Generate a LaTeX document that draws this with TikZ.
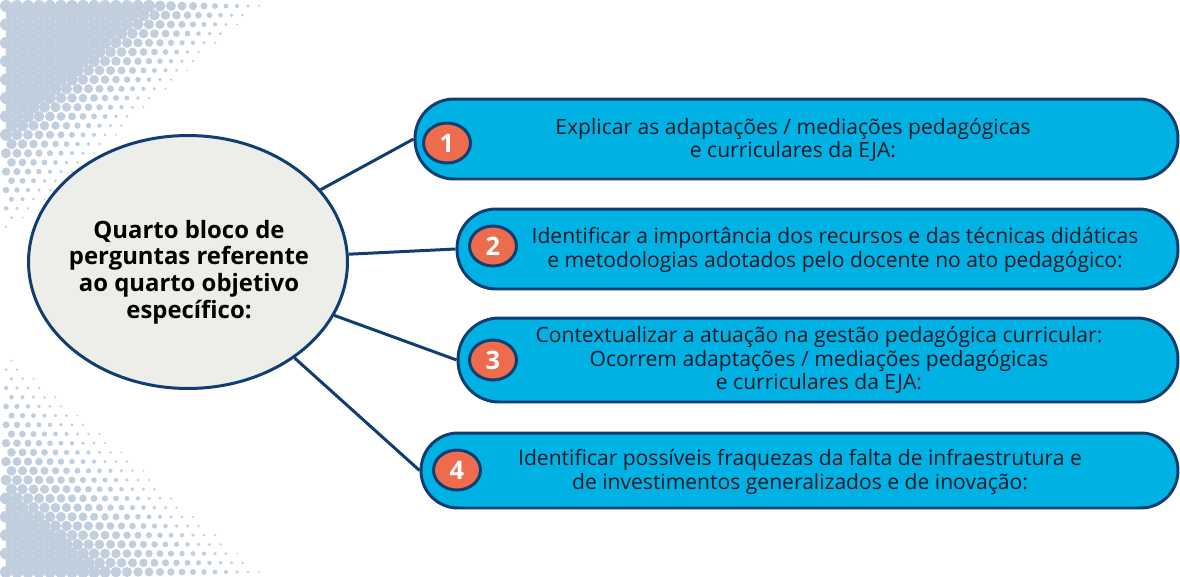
\documentclass[tikz,border=0pt]{standalone}
\usepackage{fontspec}
\setmainfont{Open Sans}
\usetikzlibrary{shapes.geometric}
\definecolor{azul}{RGB}{0,178,228}
\definecolor{marinho}{RGB}{16,62,112}
\definecolor{laranja}{RGB}{238,108,78}
\definecolor{cinza}{RGB}{237,238,233}
\definecolor{pontos}{RGB}{192,206,222}
\definecolor{preto}{RGB}{22,26,38}

\begin{document}
\begin{tikzpicture}[x=0.02cm,y=-0.02cm,
  pilula/.style={draw=marinho,fill=azul,line width=1.7pt,rounded corners=0.78cm,minimum height=1.6cm,inner sep=0pt},
  numero/.style={ellipse,draw=marinho,fill=laranja,line width=1.7pt,minimum width=0.94cm,minimum height=0.8cm,inner sep=0pt,text=white,font=\bfseries\fontsize{14.5}{14.5}\selectfont},
  texto/.style={align=center,text=preto,font=\fontsize{12}{13.4}\selectfont},
  ligacao/.style={draw=marinho,line width=1.7pt}]
\useasboundingbox (0,0) rectangle (1180,576);
% pontos do fundo
\foreach \j in {0,...,26}{
  \foreach \i in {0,...,25}{
    \pgfmathsetmacro\px{6+11*\i+5.5*mod(\j,2)}
    \pgfmathsetmacro\py{6+9.2*\j}
    \pgfmathsetmacro\ra{min(6,13-0.045*\px-0.05*\py)}
    \ifdim\ra pt>1pt \fill[pontos] (\px,\py) circle (\ra); \fi
    \pgfmathsetmacro\qy{572-9.2*\j}
    \pgfmathsetmacro\rb{min(6,9-0.03*\px-0.035*(576-\qy))}
    \ifdim\rb pt>1pt \fill[pontos] (\px,\qy) circle (\rb); \fi
  }
}
% tema central
\node[ellipse,draw=marinho,fill=cinza,line width=1.7pt,minimum width=6.38cm,minimum height=5.06cm,inner sep=0pt] (tema) at (188,262) {};
\node[align=center,text=black,font=\bfseries\fontsize{13.6}{15.2}\selectfont] (tematxt) at (189,272)
  {Quarto bloco de\\perguntas referente\\ao quarto objetivo\\específico:};
% perguntas
\node[pilula,minimum width=15.26cm] (p1) at (796.5,139) {};
\node[pilula,minimum width=14.42cm] (p2) at (817.5,249) {};
\node[pilula,minimum width=14.4cm,minimum height=1.68cm,rounded corners=0.82cm] (p3) at (818,360) {};
\node[pilula,minimum width=15.14cm,minimum height=1.5cm,rounded corners=0.74cm] (p4) at (799.5,470.5) {};
\node[texto] (t1) at (793,140) {Explicar as adaptações / mediações pedagógicas\\e curriculares da EJA:};
\node[texto] (t2) at (835,250) {Identificar a importância dos recursos e das técnicas didáticas\\e metodologias adotados pelo docente no ato pedagógico:};
\node[texto] (t3) at (819,360) {Contextualizar a atuação na gestão pedagógica curricular:\\Ocorrem adaptações / mediações pedagógicas\\e curriculares da EJA:};
\node[texto] (t4) at (800,472) {Identificar possíveis fraquezas da falta de infraestrutura e\\de investimentos generalizados e de inovação:};
\node[numero] (n1) at (447,143) {1};
\node[numero] (n2) at (493,246) {2};
\node[numero] (n3) at (493,360) {3};
\node[numero] (n4) at (457,470) {4};
% ligacoes
\draw[ligacao] (tema) -- (p1.west);
\draw[ligacao] (tema) -- (p2.west);
\draw[ligacao] (tema) -- (p3.west);
\draw[ligacao] (tema) -- (p4.west);
\end{tikzpicture}
\end{document}
